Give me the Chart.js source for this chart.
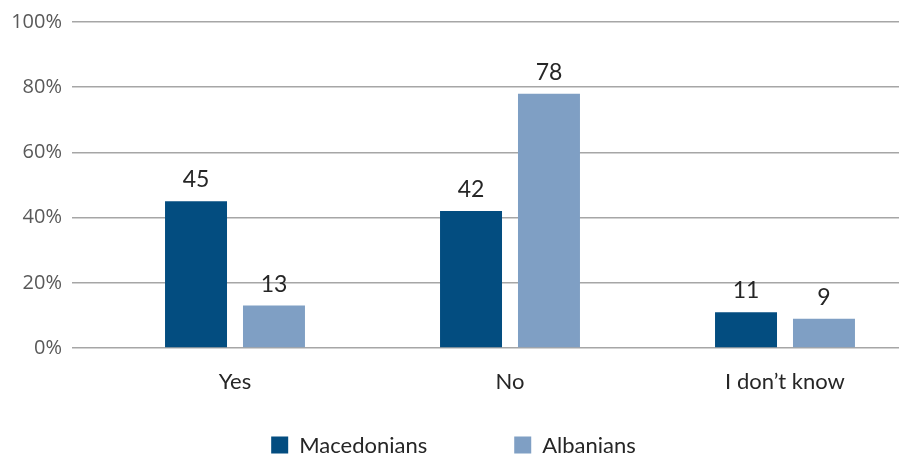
<!DOCTYPE html>
<html>
<head>
<meta charset="utf-8">
<script src="https://cdn.jsdelivr.net/npm/chart.js@4/dist/chart.umd.min.js"></script>
<style>
  html, body { margin: 0; padding: 0; background: #fff; overflow: hidden; width: 899px; height: 454px; }
  #wrap { width: 925px; height: 454px; }
</style>
</head>
<body>
<div id="wrap"><canvas id="c" width="925" height="454"></canvas></div>
<script>
const categories = ['Yes', 'No', 'I don\u2019t know'];
const seriesNames = ['Macedonians', 'Albanians'];
const macedonians = [45, 42, 11];
const albanians = [13, 78, 9];
const yTickValues = [0, 20, 40, 60, 80, 100];
const yTickLabels = ['0%', '20%', '40%', '60%', '80%', '100%'];
const colors = ['#034D80', '#7F9FC4'];

const labelFont = 'Lato, "Open Sans", sans-serif';

const valueLabels = {
  id: 'valueLabels',
  afterDatasetsDraw(chart) {
    const ctx = chart.ctx;
    ctx.save();
    ctx.font = '23px ' + labelFont;
    ctx.fillStyle = '#262626';
    ctx.textAlign = 'center';
    ctx.textBaseline = 'alphabetic';
    chart.data.datasets.forEach((ds, di) => {
      chart.getDatasetMeta(di).data.forEach((el, i) => {
        ctx.fillText(String(ds.data[i]), el.x, el.y - 14);
      });
    });
    ctx.restore();
  }
};

const customLegend = {
  id: 'customLegend',
  afterDraw(chart) {
    const ctx = chart.ctx;
    ctx.save();
    ctx.font = '22px ' + labelFont;
    const box = 17, gap = 11, spacing = 87;
    const items = chart.data.datasets.map(ds => ({ text: ds.label, color: ds.backgroundColor, w: ctx.measureText(ds.label).width }));
    let total = 0;
    items.forEach((it, i) => { total += box + gap + it.w + (i < items.length - 1 ? spacing : 0); });
    let x = 453.5 - total / 2;
    const cy = 445;
    ctx.textBaseline = 'middle';
    ctx.textAlign = 'left';
    items.forEach(it => {
      ctx.fillStyle = it.color;
      ctx.fillRect(x, cy - box / 2, box, box);
      ctx.fillStyle = '#262626';
      ctx.fillText(it.text, x + box + gap, cy + 1);
      x += box + gap + it.w + spacing;
    });
    ctx.restore();
  }
};

new Chart(document.getElementById('c'), {
  type: 'bar',
  data: {
    labels: categories,
    datasets: [
      { label: seriesNames[0], data: macedonians, backgroundColor: colors[0] },
      { label: seriesNames[1], data: albanians, backgroundColor: colors[1] }
    ]
  },
  options: {
    responsive: false,
    animation: false,
    devicePixelRatio: 1,
    layout: { padding: { top: 20, right: 2.5, bottom: 0, left: 0 } },
    categoryPercentage: 0.567,
    barPercentage: 0.795,
    plugins: {
      legend: { display: false },
      tooltip: { enabled: false }
    },
    scales: {
      x: {
        grid: { display: false, drawTicks: false },
        border: { display: false },
        ticks: { color: '#262626', font: { family: labelFont, size: 22 }, padding: 21 },
        afterFit(scale) { scale.height = 106; }
      },
      y: {
        min: 0,
        max: 100,
        afterBuildTicks(scale) { scale.ticks = yTickValues.map(v => ({ value: v })); },
        grid: { color: '#a6a6a6', lineWidth: 1.5, drawTicks: true, tickLength: 25.5 },
        border: { display: false },
        ticks: {
          color: '#595959',
          font: { family: '"Open Sans", sans-serif', size: 20 },
          padding: 10,
          callback: (v) => yTickLabels[yTickValues.indexOf(v)]
        },
        afterFit(scale) { scale.width = 97.5; }
      }
    }
  },
  plugins: [valueLabels, customLegend]
});
</script>
</body>
</html>
